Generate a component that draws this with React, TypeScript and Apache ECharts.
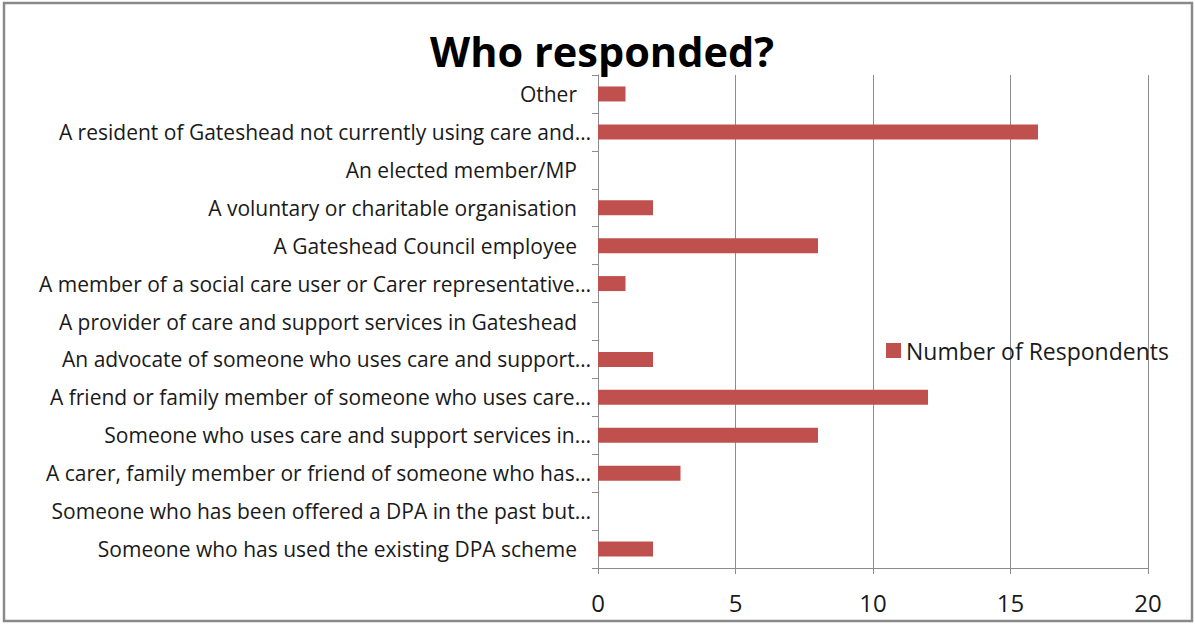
import React, { useEffect, useRef } from "react";
import * as echarts from "echarts";

const title = "Who responded?";
const seriesName = "Number of Respondents";
// bottom to top
const categories = [
  "Someone who has used the existing DPA scheme",
  "Someone who has been offered a DPA in the past but…",
  "A carer, family member or friend of someone who has…",
  "Someone who uses care and support services in…",
  "A friend or family member of someone who uses care…",
  "An advocate of someone who uses care and support…",
  "A provider of care and support services in Gateshead",
  "A member of a social care user or Carer representative…",
  "A Gateshead Council employee",
  "A voluntary or charitable organisation",
  "An elected member/MP",
  "A resident of Gateshead not currently using care and…",
  "Other",
];
const values = [2, 0, 3, 8, 12, 2, 0, 1, 8, 2, 0, 16, 1];
const xMin = 0;
const xMax = 20;
const xInterval = 5;

const FONT = "'Open Sans', sans-serif";

export default function App() {
  const ref = useRef<HTMLDivElement>(null);
  useEffect(() => {
    if (!ref.current) return;
    const chart = echarts.init(ref.current, undefined, { renderer: "svg" });
    const catItems = categories.map((c) =>
      c.endsWith("…")
        ? { value: c }
        : { value: c, textStyle: { padding: [0, 14, 0, 0] } }
    );
    chart.setOption({
      animation: false,
      backgroundColor: "#ffffff",
      title: {
        text: title,
        left: 597,
        top: 25,
        textAlign: "center",
        textStyle: { fontFamily: FONT, fontSize: 41.5, fontWeight: "bold", color: "#000" },
      },
      legend: {
        left: 886,
        top: 339,
        padding: 0,
        itemWidth: 15,
        itemHeight: 15,
        itemGap: 7,
        textStyle: { fontFamily: FONT, fontSize: 23, color: "#1a1a1a" },
        data: [{ name: seriesName, icon: "rect" }],
      },
      grid: { left: 598, right: 47, top: 75, bottom: 56, containLabel: false },
      xAxis: {
        type: "value",
        min: xMin,
        max: xMax,
        interval: xInterval,
        axisLine: { show: true, lineStyle: { color: "#8c8c8c", width: 1 } },
        axisTick: { show: true, length: 6, lineStyle: { color: "#8c8c8c" } },
        splitLine: { show: true, lineStyle: { color: "#8c8c8c", width: 1 } },
        axisLabel: { fontFamily: FONT, fontSize: 24, color: "#1a1a1a", margin: 22 },
      },
      yAxis: {
        type: "category",
        data: catItems,
        axisLine: { show: true, lineStyle: { color: "#8c8c8c", width: 1 } },
        axisTick: { show: true, length: 6, lineStyle: { color: "#8c8c8c" } },
        axisLabel: { fontFamily: FONT, fontSize: 21, color: "#1a1a1a", margin: 7 },
      },
      series: [
        {
          name: seriesName,
          type: "bar",
          data: values,
          barWidth: 15,
          itemStyle: { color: "#C0504D" },
        },
      ],
      graphic: [
        {
          type: "rect",
          shape: { x: 4, y: 3, width: 1188, height: 618 },
          style: { fill: "none", stroke: "#8a8a8a", lineWidth: 2.5 },
          silent: true,
        },
      ],
    });
    return () => chart.dispose();
  }, []);
  return (
    <div
      ref={ref}
      style={{ position: "absolute", left: 0, top: 0, width: 1195, height: 624 }}
    />
  );
}
